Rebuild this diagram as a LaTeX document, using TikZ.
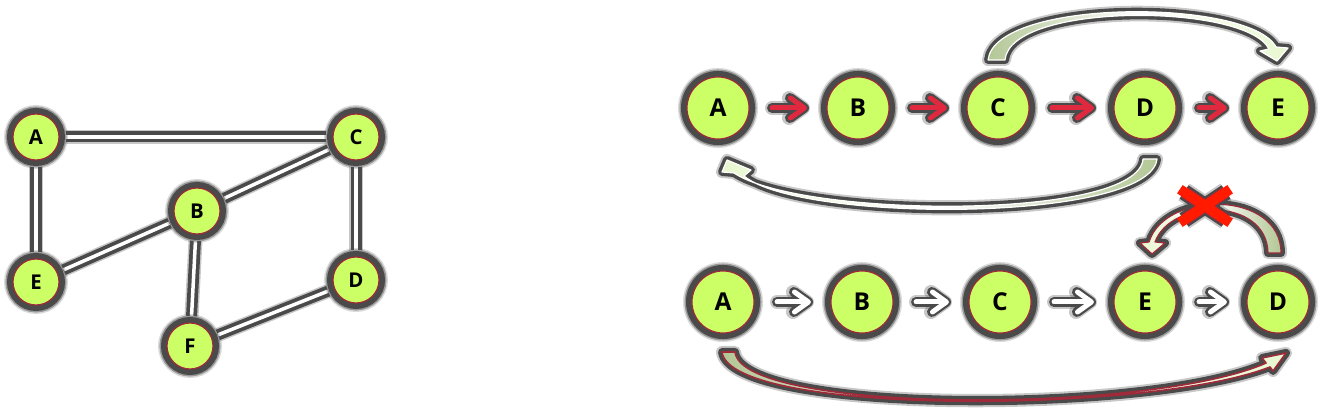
\documentclass[tikz,border=0pt]{standalone}
\usepackage{fontspec}
\setmainfont{Open Sans}
\usetikzlibrary{arrows.meta,calc,backgrounds}
\definecolor{leaf}{HTML}{CCFF66}
\definecolor{wine}{HTML}{9E2A3A}
\definecolor{halo}{HTML}{4A4A4A}
\definecolor{signal}{HTML}{E0283F}
\definecolor{sagedark}{HTML}{B3C796}
\definecolor{sagelight}{HTML}{E8F7D0}
\definecolor{stopred}{HTML}{FF1A00}

\begin{document}
\begin{tikzpicture}[x=0.01cm, y=-0.01cm,
  vnode/.style={circle, inner sep=0pt, outer sep=0pt, fill=leaf, draw=wine, line width=0.012cm,
    preaction={draw=halo, line width=0.18cm, opacity=.2},
    preaction={draw=halo, line width=0.15cm, opacity=.45},
    preaction={draw=halo, line width=0.12cm}},
  graphnode/.style={vnode, minimum size=0.46cm, font=\bfseries\fontsize{5.8}{6}\selectfont},
  seqnode/.style={vnode, minimum size=0.62cm, font=\bfseries\fontsize{7}{8}\selectfont},
  link/.style={draw=white, line width=0.035cm, shorten <=0.07cm, shorten >=0.07cm,
    preaction={draw=halo, line width=0.14cm, opacity=.3},
    preaction={draw=halo, line width=0.11cm}},
  tip/.style={-{Straight Barb[length=0.14cm, width=0.2cm, round]}, line cap=round, line join=round},
  stepsoft/.style={tip, draw=halo, opacity=.3, line width=0.14cm, shorten <=0.23cm, shorten >=0.17cm},
  stephalo/.style={tip, draw=halo, line width=0.1cm, shorten <=0.23cm, shorten >=0.18cm},
  seqstep/.style={tip, line width=0.05cm, shorten <=0.23cm, shorten >=0.2cm},
  redstep/.style={seqstep, draw=signal},
  whitestep/.style={seqstep, draw=white},
  curvearrow/.style={line width=0.012cm, line join=round,
    preaction={draw=halo, line width=0.12cm, opacity=.3, line join=round},
    preaction={draw=halo, line width=0.08cm, line join=round}},
  crossmark/.style={draw=stopred, line width=0.1cm, line cap=rect,
    preaction={draw=halo, line width=0.2cm, opacity=.3},
    preaction={draw=halo, line width=0.16cm},
    preaction={draw=wine, line width=0.12cm}},
]
\useasboundingbox (0,0) rectangle (1322,413);

% left graph
\node[graphnode] (A) at (36,137) {A};
\node[graphnode] (C) at (356,137) {C};
\node[graphnode] (B) at (197,211) {B};
\node[graphnode] (E) at (36,282) {E};
\node[graphnode] (D) at (356,280) {D};
\node[graphnode] (F) at (190,346) {F};

\begin{scope}[on background layer]
\foreach \u/\v in {A/C, A/E, C/B, C/D, B/E, B/F, F/D}
  \draw[link] (\u) -- (\v);
\end{scope}

% top row
\node[seqnode] (tA) at (718,108) {A};
\node[seqnode] (tB) at (858,108) {B};
\node[seqnode] (tC) at (998,108) {C};
\node[seqnode] (tD) at (1145,108) {D};
\node[seqnode] (tE) at (1278,108) {E};

\foreach \u/\v in {tA/tB, tB/tC, tC/tD, tD/tE} {
  \draw[stepsoft] (\u) -- (\v);
  \draw[stephalo] (\u) -- (\v);
  \draw[redstep] (\u) -- (\v);
}

\draw[curvearrow, draw=white, left color=sagedark, right color=sagelight, middle color=white]
  ($(tC)+(-10,-48)$) .. controls +(7,-62) and +(-26,-49) .. ($(tE)+(-2,-61)$)
  -- ($(tE)+(10,-60)$) -- ($(tE)+(-1,-47)$) -- ($(tE)+(-18,-57)$) -- ($(tE)+(-9,-59)$)
  .. controls +(-23,-46) and +(5,-58) .. ($(tC)+(7,-48)$) -- cycle;

\draw[curvearrow, draw=white, left color=sagelight, right color=sagedark, middle color=white]
  ($(tD)+(12,51)$) .. controls +(-7,64) and +(56,47) .. ($(tA)+(26,68)$)
  -- ($(tA)+(33,62)$) -- ($(tA)+(9,52)$) -- ($(tA)+(4,64)$) -- ($(tA)+(16,65)$)
  .. controls +(67,45) and +(-5,62) .. ($(tD)+(-2,51)$) -- cycle;

% bottom row
\node[seqnode] (bA) at (723,302) {A};
\node[seqnode] (bB) at (862,302) {B};
\node[seqnode] (bC) at (1000,302) {C};
\node[seqnode] (bE) at (1145,302) {E};
\node[seqnode] (bD) at (1278,302) {D};

\foreach \u/\v in {bA/bB, bB/bC, bC/bE, bE/bD} {
  \draw[stepsoft] (\u) -- (\v);
  \draw[stephalo] (\u) -- (\v);
  \draw[whitestep] (\u) -- (\v);
}

\draw[curvearrow, draw=wine, left color=sagelight, right color=sagedark, middle color=white]
  ($(bD)+(3,-49)$) .. controls +(0,-63) and +(16,-52) .. ($(bE)+(4,-60)$)
  -- ($(bE)+(-5,-59)$) -- ($(bE)+(7,-48)$) -- ($(bE)+(20,-59)$) -- ($(bE)+(10,-60)$)
  .. controls +(16,-44) and +(-1,-56) .. ($(bD)+(-10,-49)$) -- cycle;

\draw[curvearrow, draw=wine, line width=0.016cm, left color=sagedark, right color=sagelight, middle color=white]
  ($(bA)+(-1,50)$) .. controls +(8,64) and +(-120,47) .. ($(bD)+(-8,65)$)
  -- ($(bD)+(-5,69)$) -- ($(bD)+(8,51)$) -- ($(bD)+(-16,56)$) -- ($(bD)+(-12,61)$)
  .. controls +(-115,51) and +(7,62) .. ($(bA)+(12,50)$) -- cycle;

% crossed-out link
\coordinate (cut) at (1205,206);
\draw[crossmark] ($(cut)+(-21,-14)$) -- ($(cut)+(21,14)$) ($(cut)+(21,-14)$) -- ($(cut)+(-21,14)$);

\end{tikzpicture}
\end{document}
